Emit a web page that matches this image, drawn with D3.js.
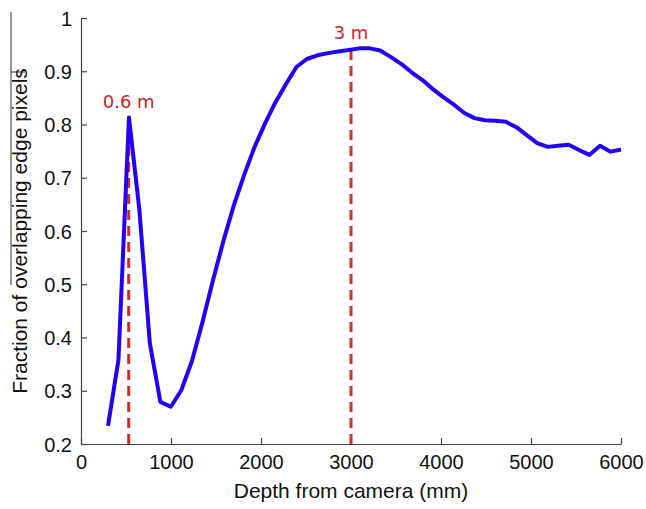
<!DOCTYPE html>
<html>
<head>
<meta charset="utf-8">
<script src="https://cdn.jsdelivr.net/npm/d3@7"></script>
<style>
  body { margin: 0; background: #fff; }
  text { font-family: "Liberation Sans", Arial, sans-serif; }
</style>
</head>
<body>
<div id="chart"></div>
<script>
// depth from camera (mm)
const depths = [300, 416, 533, 649, 765, 882, 998, 1114, 1231, 1347,
    1463, 1580, 1696, 1812, 1929, 2045, 2161, 2278, 2394, 2510,
    2627, 2743, 2859, 2976, 3092, 3208, 3324, 3441, 3557, 3673,
    3790, 3906, 4022, 4139, 4255, 4371, 4488, 4604, 4720, 4837,
    4953, 5069, 5186, 5302, 5418, 5535, 5651, 5767, 5884, 6000];
// fraction of overlapping edge pixels
const fractions = [0.234, 0.358, 0.813, 0.639, 0.389, 0.279, 0.270, 0.301, 0.355, 0.427,
    0.505, 0.580, 0.647, 0.705, 0.758, 0.802, 0.842, 0.876, 0.908, 0.923,
    0.930, 0.934, 0.937, 0.940, 0.943, 0.943, 0.939, 0.927, 0.914, 0.898,
    0.884, 0.867, 0.852, 0.838, 0.822, 0.812, 0.808, 0.807, 0.805, 0.795,
    0.780, 0.765, 0.758, 0.760, 0.762, 0.752, 0.743, 0.760, 0.749, 0.753];
const markerDepths = [530, 3000];
const markerValues = [0.813, 0.941];
const markerLabels = ['0.6 m', '3 m'];
const xTicks = [0, 1000, 2000, 3000, 4000, 5000, 6000];
const yTicks = [0.2, 0.3, 0.4, 0.5, 0.6, 0.7, 0.8, 0.9, 1];

const margin = { top: 18, bottom: 65, left: 81, right: 25 };
const width = 646 - margin.left - margin.right;
const height = 509 - margin.top - margin.bottom;

const svg = d3.select('#chart').append('svg')
    .attr('width', 646)
    .attr('height', 509);

const group = svg.append('g')
    .attr('transform', `translate(${margin.left}, ${margin.top})`);

const xScale = d3.scaleLinear().domain([0, 6000]).range([0, width]);
const yScale = d3.scaleLinear().domain([0.2, 1]).range([height, 0]);

// axes, ticks pointing into the plot
const xAxis = group.append('g')
    .attr('transform', `translate(0, ${height})`)
    .call(d3.axisBottom(xScale).tickValues(xTicks).tickSizeInner(-6).tickSizeOuter(0).tickPadding(13)
        .tickFormat(d3.format('d')));
const yAxis = group.append('g')
    .call(d3.axisLeft(yScale).tickValues(yTicks).tickSizeInner(-6).tickSizeOuter(0).tickPadding(9)
        .tickFormat(d => d === 1 ? '1' : d3.format('.1f')(d)));

[xAxis, yAxis].forEach(ax => {
    ax.select('.domain').attr('stroke', '#444').attr('stroke-width', 1.2);
    ax.selectAll('.tick line').attr('stroke', '#444').attr('stroke-width', 1.2);
    ax.selectAll('.tick text')
        .attr('fill', '#111')
        .style('font-size', '20px')
        .style('font-family', '"Liberation Sans", Arial, sans-serif');
});
yAxis.selectAll('.tick text').attr('dy', '0.36em');
xAxis.selectAll('.tick text').attr('dy', '0.6em');

// dashed reference lines
const points = markerDepths.map((d, i) => ({ x: d, y: markerValues[i], label: markerLabels[i] }));

group.selectAll('.ref')
    .data(points)
    .enter()
    .append('line')
    .attr('class', 'ref')
    .attr('x1', d => xScale(d.x))
    .attr('x2', d => xScale(d.x))
    .attr('y1', yScale(0.2))
    .attr('y2', d => yScale(d.y))
    .attr('stroke', '#d42a2a')
    .attr('stroke-width', 3)
    .attr('stroke-dasharray', '10,6');

// curve
const data = depths.map((d, i) => ({ x: d, y: fractions[i] }));
const line = d3.line()
    .x(d => xScale(d.x))
    .y(d => yScale(d.y));

group.append('path')
    .datum(data)
    .attr('d', line)
    .attr('fill', 'none')
    .attr('stroke', '#2200f5')
    .attr('stroke-width', 4)
    .attr('stroke-linejoin', 'round');

// marker labels
group.selectAll('.ref-label')
    .data(points)
    .enter()
    .append('text')
    .attr('class', 'ref-label')
    .attr('x', d => xScale(d.x))
    .attr('y', d => yScale(d.y) - 10)
    .attr('text-anchor', 'middle')
    .attr('fill', '#d01f24')
    .style('font-family', '"DejaVu Sans", sans-serif')
    .style('font-size', '18px')
    .text(d => d.label);

// axis titles
svg.append('text')
    .attr('x', margin.left + width / 2)
    .attr('y', 498)
    .attr('text-anchor', 'middle')
    .attr('fill', '#111')
    .style('font-size', '21px')
    .text('Depth from camera (mm)');

svg.append('text')
    .attr('transform', 'translate(27, 231) rotate(-90)')
    .attr('text-anchor', 'middle')
    .attr('fill', '#111')
    .style('font-size', '21px')
    .text('Fraction of overlapping edge pixels');

// stray bracket line left of the y title
svg.append('path')
    .attr('d', 'M11,12 L11,285 M11,72 L25,72')
    .attr('fill', 'none')
    .attr('stroke', '#333')
    .attr('stroke-width', 1);
</script>
</body>
</html>
